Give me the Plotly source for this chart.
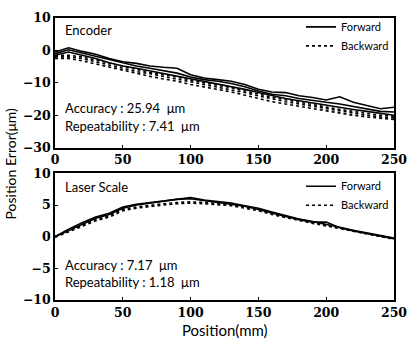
import plotly.graph_objects as go
from plotly.subplots import make_subplots

positions = [0, 10, 20, 30, 40, 50, 60, 70, 80, 90, 100, 110, 120, 130, 140, 150,
             160, 170, 180, 190, 200, 210, 220, 230, 240, 250]

enc_fwd_1 = [-0.5, 0.8, -0.3, -1.2, -2.5, -3.5, -4.0, -4.8, -5.2, -5.5, -7.5, -8.5, -9.0,
             -9.5, -10.5, -12.0, -12.8, -13.0, -14.0, -14.5, -15.3, -14.3, -16.0, -17.0, -18.0, -17.5]
enc_fwd_2 = [-1.0, 0.2, -0.8, -1.8, -3.0, -4.0, -4.8, -5.5, -6.2, -7.0, -8.2, -9.0, -9.5,
             -10.2, -11.2, -12.5, -13.5, -14.0, -14.8, -15.5, -16.0, -16.5, -17.2, -18.0, -18.8, -19.0]
enc_fwd_3 = [-1.5, -0.5, -1.5, -2.5, -3.8, -4.8, -5.5, -6.3, -7.0, -7.8, -8.8, -9.5, -10.2,
             -11.0, -12.0, -13.0, -14.0, -14.8, -15.5, -16.2, -17.0, -17.5, -18.2, -18.8, -19.5, -20.0]
enc_bwd_1 = [-2.0, -2.0, -2.5, -3.5, -4.5, -5.5, -6.5, -7.2, -8.0, -8.8, -9.8, -10.5, -11.2,
             -12.0, -13.0, -14.0, -15.0, -15.8, -16.5, -17.2, -18.0, -18.8, -19.5, -20.0, -20.5, -20.8]
enc_bwd_2 = [-2.5, -2.5, -3.2, -4.2, -5.2, -6.2, -7.2, -8.0, -8.8, -9.5, -10.5, -11.2, -12.0,
             -12.8, -13.8, -14.8, -15.8, -16.5, -17.2, -18.0, -18.8, -19.5, -20.0, -20.5, -21.0, -21.3]
enc_bwd_3 = [-1.5, -1.5, -2.0, -3.0, -4.0, -5.0, -6.0, -6.8, -7.5, -8.2, -9.2, -10.0, -10.6,
             -11.5, -12.5, -13.5, -14.4, -15.2, -16.0, -16.8, -17.5, -18.2, -18.8, -19.5, -20.0, -20.3]

las_fwd_1 = [0.0, 1.2, 2.2, 3.1, 3.7, 4.7, 5.1, 5.4, 5.7, 6.0, 6.2, 5.8, 5.6, 5.3, 4.9, 4.5,
             3.9, 3.3, 2.8, 2.4, 2.0, 1.5, 1.0, 0.6, 0.2, -0.2]
las_fwd_2 = [0.0, 1.0, 2.0, 2.9, 3.5, 4.5, 5.0, 5.3, 5.6, 5.9, 6.0, 5.7, 5.5, 5.2, 4.8, 4.3,
             3.7, 3.2, 2.7, 2.3, 2.3, 1.4, 0.9, 0.5, 0.1, -0.3]
las_bwd_1 = [0.0, 0.9, 1.9, 2.7, 3.3, 4.3, 4.7, 5.0, 5.2, 5.4, 5.5, 5.4, 5.3, 5.1, 4.7, 4.3,
             3.7, 3.2, 2.7, 2.3, 1.8, 1.4, 0.9, 0.5, 0.1, -0.3]
las_bwd_2 = [-0.1, 0.8, 1.7, 2.5, 3.1, 4.1, 4.5, 4.8, 5.0, 5.2, 5.3, 5.2, 5.1, 4.9, 4.5, 4.1,
             3.5, 3.0, 2.5, 2.1, 1.7, 1.3, 0.8, 0.4, 0.0, -0.4]

enc_label = "Encoder"
las_label = "Laser Scale"
enc_acc = "Accuracy : 25.94  μm"
enc_rep = "Repeatability : 7.41  μm"
las_acc = "Accuracy : 7.17  μm"
las_rep = "Repeatability : 1.18  μm"

fig = make_subplots(rows=2, cols=1, vertical_spacing=0.091)

def add(series, row, dash, name, show, legend):
    fig.add_trace(go.Scatter(x=positions, y=series, mode="lines", name=name,
                             line=dict(color="black", width=1.6, dash=dash),
                             showlegend=show, legend=legend, legendgroup=legend + name),
                  row=row, col=1)

add(enc_fwd_1, 1, "solid", "Forward", True, "legend")
add(enc_fwd_2, 1, "solid", "Forward", False, "legend")
add(enc_fwd_3, 1, "solid", "Forward", False, "legend")
add(enc_bwd_1, 1, "dot", "Backward", True, "legend")
add(enc_bwd_2, 1, "dot", "Backward", False, "legend")
add(enc_bwd_3, 1, "dot", "Backward", False, "legend")
add(las_fwd_1, 2, "solid", "Forward", True, "legend2")
add(las_fwd_2, 2, "solid", "Forward", False, "legend2")
add(las_bwd_1, 2, "dot", "Backward", True, "legend2")
add(las_bwd_2, 2, "dot", "Backward", False, "legend2")

tickfont = dict(family="DejaVu Serif", size=12.5, color="black", weight="bold")
axis_common = dict(showline=True, linecolor="black", linewidth=1.5, mirror=True,
                   ticks="inside", ticklen=3, tickcolor="black", showgrid=False,
                   zeroline=False, tickfont=tickfont, automargin=False,
                   ticklabeloverflow="allow")

fig.update_xaxes(range=[0, 250], tickvals=[0, 50, 100, 150, 200, 250], **axis_common)
fig.update_yaxes(range=[-30, 10], tickvals=[10, 0, -10, -20, -30], row=1, col=1, **axis_common)
fig.update_yaxes(range=[-10, 10], tickvals=[10, 5, 0, -5, -10], row=2, col=1, **axis_common)

fig.update_layout(yaxis_domain=[0.54, 1.0], yaxis2_domain=[0.0, 0.449])

tf = dict(family="Lato", size=13, color="black")
legfont = dict(family="Lato", size=11, color="black")
fig.update_layout(
    width=407, height=342,
    margin=dict(l=55, r=13, t=14, b=42),
    paper_bgcolor="white", plot_bgcolor="white",
    legend=dict(x=1.0, y=1.02, xanchor="right", yanchor="top", font=legfont,
                bgcolor="rgba(0,0,0,0)", tracegroupgap=0, itemwidth=30),
    legend2=dict(x=1.0, y=0.455, xanchor="right", yanchor="top", font=legfont,
                 bgcolor="rgba(0,0,0,0)", tracegroupgap=0, itemwidth=30),
    font=dict(family="Lato", color="black"),
)

def note(text, x, y, ref):
    fig.add_annotation(text=text, x=x, y=y, xref=ref[0], yref=ref[1], xanchor="left",
                       yanchor="middle", showarrow=False, font=tf)

note(enc_label, 0.025, 0.91, ("x domain", "y domain"))
note(enc_acc, 0.025, 0.31, ("x domain", "y domain"))
note(enc_rep, 0.025, 0.17, ("x domain", "y domain"))
note(las_label, 0.025, 0.89, ("x2 domain", "y2 domain"))
note(las_acc, 0.025, 0.28, ("x2 domain", "y2 domain"))
note(las_rep, 0.025, 0.14, ("x2 domain", "y2 domain"))

fig.add_annotation(text="Position Error(μm)", x=-0.13, y=0.484, xref="paper", yref="paper",
                   xanchor="center", textangle=-90, showarrow=False, borderpad=0,
                   font=dict(family="Lato", size=14, color="black"))
fig.add_annotation(text="Position(mm)", x=0.5, y=-0.105, xref="paper", yref="paper",
                   yanchor="middle", showarrow=False, font=dict(family="Lato", size=15, color="black"))

fig.write_html("out.html", config={"displayModeBar": False},
               post_script="document.body.style.margin='0';document.body.style.overflow='hidden';")
